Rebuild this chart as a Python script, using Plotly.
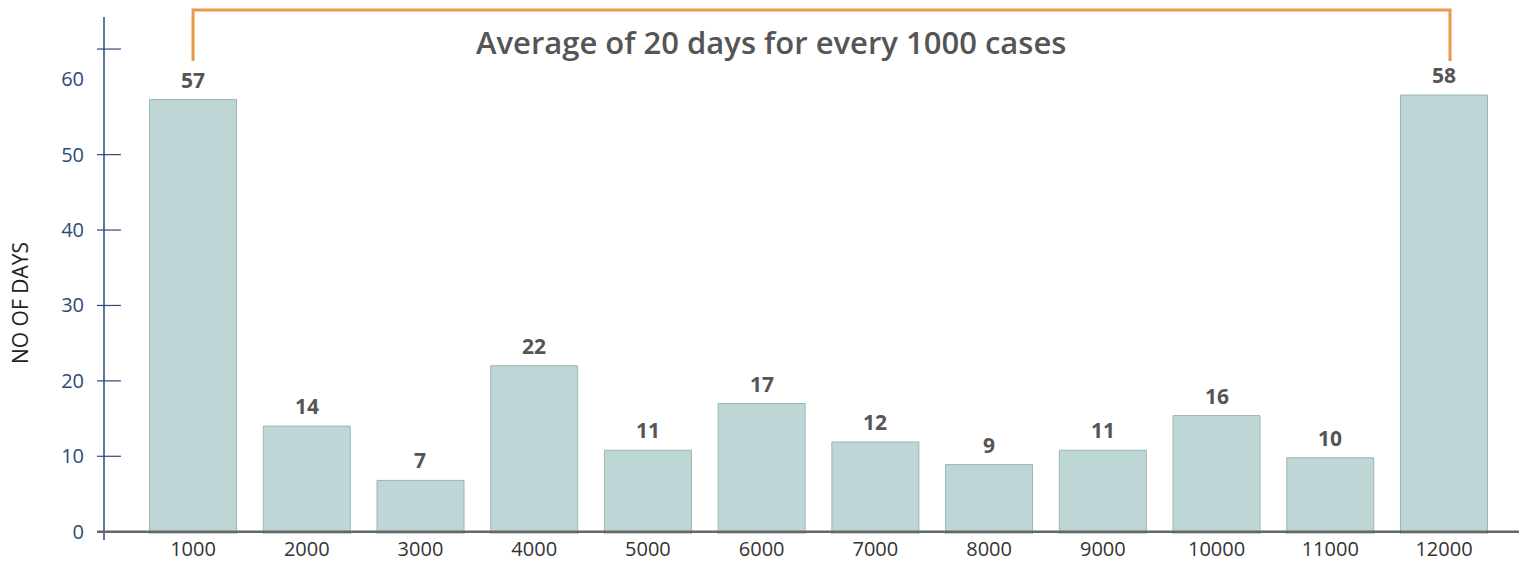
import plotly.graph_objects as go

cases = [1000, 2000, 3000, 4000, 5000, 6000, 7000, 8000, 9000, 10000, 11000, 12000]
days = [57.3, 14.0, 6.8, 22.0, 10.8, 17.0, 11.9, 8.9, 10.8, 15.4, 9.8, 57.9]
day_labels = ["57", "14", "7", "22", "11", "17", "12", "9", "11", "16", "10", "58"]
y_ticks = [0, 10, 20, 30, 40, 50, 60]
y_tick_marks = [10, 20, 30, 40, 50, 64]
title_text = "Average of 20 days for every 1000 cases"
y_title = "NO OF DAYS"

BELOW = 0.45  # bars start slightly below the baseline

FONT = "Open Sans"
AXIS_BLUE = "#2d4a78"
fig = go.Figure()
fig.add_trace(go.Bar(
    x=cases,
    y=[d + BELOW for d in days],
    base=-BELOW,
    width=765,
    cliponaxis=False,
    marker=dict(color="#bfd6d7", line=dict(color="#9cb6b4", width=1)),
    hoverinfo="skip",
))

shapes = []
# y axis line (extends a little below the plot area)
shapes.append(dict(type="line", xref="paper", yref="paper", x0=0, x1=0, y0=-0.0116, y1=1,
                   line=dict(color=AXIS_BLUE, width=1.5), layer="above"))
# baseline
shapes.append(dict(type="line", xref="paper", yref="y", x0=-0.0049, x1=1, y0=0, y1=0,
                   line=dict(color="#666666", width=2.5), layer="above"))
# y tick marks crossing the axis
for t in y_tick_marks:
    shapes.append(dict(type="line", xref="paper", yref="y", x0=-0.0049, x1=0.0119, y0=t, y1=t,
                       line=dict(color=AXIS_BLUE, width=1.2), layer="above"))
# orange bracket
shapes.append(dict(type="path", xref="x", yref="paper",
                   path=f"M {cases[0]},0.9149 L {cases[0]},1.0135 L {cases[-1] + 53},1.0135 L {cases[-1] + 53},0.9149",
                   line=dict(color="#e8994a", width=3)))

annotations = [
    dict(text=title_text, xref="paper", yref="paper", x=0.4687, y=0.9516,
         xanchor="center", yanchor="middle", showarrow=False,
         font=dict(family=FONT, size=31, color="#555555", weight=600)),
    dict(text=y_title, xref="paper", yref="paper", x=-0.059, y=0.4468,
         xanchor="center", yanchor="middle", showarrow=False, textangle=-90,
         font=dict(family=FONT, size=21, color="#222222")),
]
for c, d, lab in zip(cases, days, day_labels):
    annotations.append(dict(text=lab, x=c, y=d, xref="x", yref="y", xanchor="center",
                            yanchor="bottom", yshift=4, showarrow=False,
                            font=dict(family=FONT, size=21, color="#555555", weight=700)))

# The page body has an 8px margin, so the figure is sized/placed to compensate.
fig.update_layout(
    width=1519, height=554,
    margin=dict(l=96, r=0, t=9, b=28),
    plot_bgcolor="white", paper_bgcolor="white",
    showlegend=False,
    shapes=shapes,
    annotations=annotations,
    xaxis=dict(range=[217, 12730], tickvals=cases, ticktext=[str(c) for c in cases],
               showline=False, showgrid=False, zeroline=False, automargin=False,
               ticks="", ticklabelstandoff=1,
               tickfont=dict(family=FONT, size=20, color="#333333")),
    yaxis=dict(range=[-0.305, 68.25], tickvals=y_ticks, showgrid=False, zeroline=False,
               showline=False, ticks="", automargin=False,
               ticklabelstandoff=19,
               tickfont=dict(family=FONT, size=20, color=AXIS_BLUE)),
)

fig.write_html("out.html")
